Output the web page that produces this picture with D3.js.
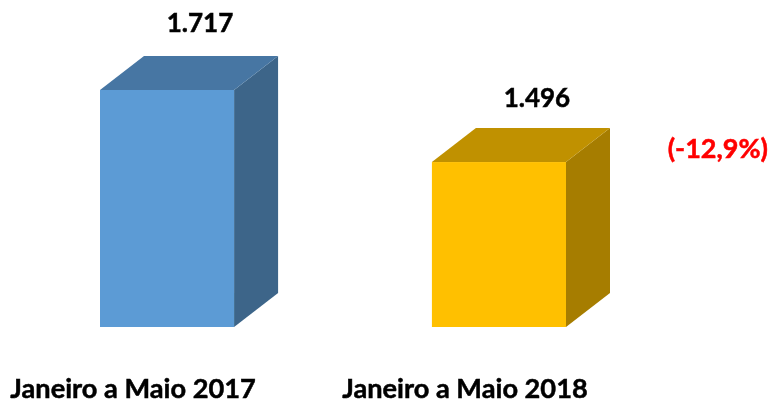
<!DOCTYPE html>
<html>
	<head>
		<title>Janeiro a Maio</title>
		<meta charset="utf-8" />
		<script src="https://d3js.org/d3.v7.min.js"></script>
		<style>
			html, body { margin: 0; padding: 0; background: #fff; overflow: hidden; }
			svg { display: block; }
			text { font-family: Lato, "Open Sans", sans-serif; font-weight: 700; stroke: currentColor; stroke-width: 0.5px; }
		</style>
	</head>
	<body>
		<div id="holder"></div>
		<script>
			//Data
			const categories = ["Janeiro a Maio 2017", "Janeiro a Maio 2018"];
			const values = [1717, 1496];
			const valueLabels = ["1.717", "1.496"];
			const changeLabel = "(-12,9%)";

			//Colours: front, top, side
			const fronts = ["#5b9bd5", "#ffc000"];
			const tops = ["#4776a3", "#c09100"];
			const sides = ["#3c6589", "#a67d00"];

			//Variables
			const w = 772;
			const h = 402;
			const depthX = 44;
			const depthY = 34;

			const svg = d3.select("#holder")
				.append("svg")
				.attr("width", w)
				.attr("height", h);

			//Original looks resampled, soften the edges a little
			svg.append("defs")
				.append("filter")
				.attr("id", "soft")
				.append("feGaussianBlur")
				.attr("stdDeviation", 0.45);

			const chart = svg.append("g")
				.attr("filter", "url(#soft)");

			//Scales
			const xScale = d3.scaleBand()
				.domain(categories)
				.range([100, 566])
				.paddingInner(0.596)
				.paddingOuter(0);

			//axis of the original does not start at zero
			const yScale = d3.scaleLinear()
				.domain([990, 1717])
				.range([327, 90]);

			const bars = chart.selectAll("g.bar")
				.data(values)
				.enter()
				.append("g")
				.attr("class", "bar");

			const left = (d, i) => xScale(categories[i]);
			const right = (d, i) => left(d, i) + xScale.bandwidth();
			const base = yScale.range()[0];

			//Side
			bars.append("path")
				.attr("fill", (d, i) => sides[i])
				.attr("d", (d, i) => {
					const r = right(d, i), t = yScale(d);
					return "M" + r + "," + t + "L" + (r + depthX) + "," + (t - depthY) +
						"L" + (r + depthX) + "," + (base - depthY) + "L" + r + "," + base + "Z";
				});

			//Top
			bars.append("path")
				.attr("fill", (d, i) => tops[i])
				.attr("d", (d, i) => {
					const l = left(d, i), r = right(d, i), t = yScale(d);
					return "M" + l + "," + t + "L" + (l + depthX) + "," + (t - depthY) +
						"L" + (r + depthX) + "," + (t - depthY) + "L" + r + "," + t + "Z";
				});

			//Front
			bars.append("rect")
				.attr("fill", (d, i) => fronts[i])
				.attr("x", left)
				.attr("y", d => yScale(d))
				.attr("width", xScale.bandwidth())
				.attr("height", d => base - yScale(d));

			//Value labels, hand placed in the original so nudged per bar
			bars.append("text")
				.attr("x", (d, i) => left(d, i) + xScale.bandwidth() / 2 + (i === 0 ? 33 : 38))
				.attr("y", (d, i) => yScale(d) - (i === 0 ? 58 : 55))
				.attr("text-anchor", "middle")
				.style("font-size", "26px")
				.style("color", "#000")
				.attr("fill", "#000")
				.text((d, i) => valueLabels[i]);

			//Change label
			chart.append("text")
				.attr("x", 768)
				.attr("y", 158)
				.attr("text-anchor", "end")
				.style("font-size", "27px")
				.style("color", "#ff0000")
				.attr("fill", "#ff0000")
				.text(changeLabel);

			//x axis
			const xAxis = d3.axisBottom(xScale).tickSize(0).tickPadding(0);
			const axisG = chart.append("g")
				.attr("transform", "translate(-34, 379)")
				.call(xAxis);
			axisG.select(".domain").remove();
			axisG.selectAll("text")
				.style("font-size", "27.2px")
				.style("color", "#000")
				.attr("fill", "#000");
		</script>
	</body>
</html>
